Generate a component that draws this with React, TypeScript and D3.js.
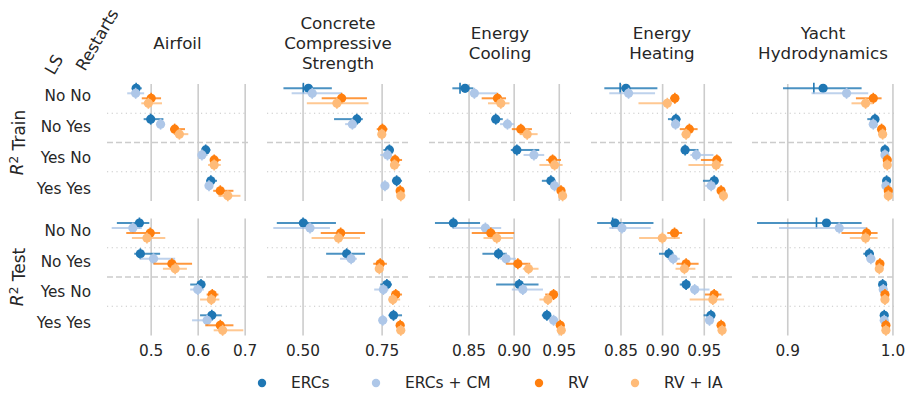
import React from 'react'
import * as d3 from 'd3'

// categories
const configs = ['No No', 'No Yes', 'Yes No', 'Yes Yes']
const seriesNames = ['ERCs', 'ERCs + CM', 'RV', 'RV + IA']
const seriesColors = ['#1f77b4', '#aec7e8', '#ff7f0e', '#ffbb78']
const datasets = ['Airfoil', 'Concrete Compressive Strength', 'Energy Cooling', 'Energy Heating', 'Yacht Hydrodynamics']
const titleLines = [['Airfoil'], ['Concrete', 'Compressive', 'Strength'], ['Energy', 'Cooling'], ['Energy', 'Heating'], ['Yacht', 'Hydrodynamics']]
const metrics = ['Train', 'Test']

// x limits and tick labels per dataset
const xLimits = [[0.406, 0.706], [0.386, 0.835], [0.8056, 0.963], [0.814, 0.9845], [0.866, 1.001]]
const xTicks = [['0.5', '0.6', '0.7'], ['0.50', '0.75'], ['0.85', '0.90', '0.95'], ['0.85', '0.90', '0.95'], ['0.9', '1.0']]

// [mean, low, high], order: config x series
const airfoilTrain = [
  [0.468, 0.461, 0.480], [0.467, 0.449, 0.485], [0.500, 0.480, 0.521], [0.494, 0.479, 0.523],
  [0.499, 0.484, 0.526], [0.520, 0.514, 0.526], [0.550, 0.540, 0.572], [0.560, 0.549, 0.579],
  [0.616, 0.608, 0.626], [0.608, 0.600, 0.620], [0.634, 0.626, 0.648], [0.634, 0.621, 0.648],
  [0.627, 0.617, 0.640], [0.623, 0.617, 0.630], [0.647, 0.632, 0.675], [0.663, 0.643, 0.690],
]
const airfoilTest = [
  [0.475, 0.427, 0.496], [0.461, 0.416, 0.480], [0.498, 0.447, 0.519], [0.491, 0.459, 0.530],
  [0.477, 0.464, 0.519], [0.505, 0.477, 0.551], [0.544, 0.505, 0.587], [0.551, 0.525, 0.576],
  [0.606, 0.583, 0.615], [0.599, 0.583, 0.612], [0.630, 0.618, 0.643], [0.628, 0.604, 0.645],
  [0.629, 0.604, 0.650], [0.619, 0.587, 0.629], [0.647, 0.615, 0.675], [0.652, 0.633, 0.696],
]
const concreteTrain = [
  [0.517, 0.438, 0.591], [0.529, 0.464, 0.622], [0.622, 0.559, 0.702], [0.607, 0.512, 0.707],
  [0.670, 0.598, 0.689], [0.656, 0.633, 0.670], [0.751, 0.733, 0.767], [0.749, 0.740, 0.758],
  [0.773, 0.754, 0.786], [0.767, 0.744, 0.781], [0.791, 0.776, 0.813], [0.789, 0.776, 0.807],
  [0.796, 0.781, 0.813], [0.759, 0.754, 0.764], [0.807, 0.797, 0.820], [0.809, 0.803, 0.815],
]
const concreteTest = [
  [0.501, 0.417, 0.604], [0.522, 0.406, 0.585], [0.619, 0.556, 0.696], [0.612, 0.527, 0.680],
  [0.638, 0.573, 0.696], [0.652, 0.617, 0.670], [0.744, 0.722, 0.765], [0.741, 0.733, 0.750],
  [0.765, 0.744, 0.781], [0.754, 0.725, 0.770], [0.793, 0.780, 0.813], [0.784, 0.770, 0.807],
  [0.786, 0.770, 0.813], [0.752, 0.747, 0.757], [0.807, 0.797, 0.820], [0.809, 0.803, 0.815],
]
const coolingTrain = [
  [0.8456, 0.8315, 0.8548], [0.8559, 0.851, 0.881], [0.8815, 0.864, 0.891], [0.8852, 0.871, 0.8948],
  [0.8796, 0.875, 0.8874], [0.8926, 0.8844, 0.900], [0.9074, 0.8974, 0.9197], [0.9144, 0.906, 0.926],
  [0.903, 0.8963, 0.9278], [0.9219, 0.9104, 0.9333], [0.9426, 0.9356, 0.9519], [0.9448, 0.928, 0.9537],
  [0.9407, 0.9307, 0.9456], [0.9448, 0.941, 0.948], [0.9519, 0.9475, 0.9565], [0.9537, 0.951, 0.9565],
]
const coolingTest = [
  [0.8326, 0.8122, 0.8622], [0.8681, 0.8326, 0.8856], [0.8741, 0.853, 0.900], [0.8807, 0.866, 0.899],
  [0.8826, 0.8648, 0.8919], [0.8911, 0.8844, 0.9019], [0.9041, 0.8911, 0.9178], [0.9159, 0.9096, 0.927],
  [0.9056, 0.880, 0.927], [0.9096, 0.8974, 0.9319], [0.9437, 0.9344, 0.9474], [0.9374, 0.928, 0.9419],
  [0.9363, 0.9307, 0.9407], [0.9437, 0.940, 0.947], [0.9511, 0.947, 0.955], [0.9522, 0.949, 0.955],
]
const heatingTrain = [
  [0.856, 0.830, 0.8937], [0.8591, 0.836, 0.8909], [0.9147, 0.909, 0.9194], [0.9056, 0.871, 0.9095],
  [0.9159, 0.9064, 0.9214], [0.9155, 0.912, 0.918], [0.9321, 0.9206, 0.942], [0.9282, 0.923, 0.933],
  [0.927, 0.922, 0.943], [0.9405, 0.9333, 0.961], [0.9651, 0.946, 0.971], [0.9643, 0.931, 0.973],
  [0.9619, 0.9484, 0.967], [0.9583, 0.951, 0.963], [0.9702, 0.966, 0.974], [0.973, 0.970, 0.976],
]
const heatingTest = [
  [0.8429, 0.8214, 0.889], [0.8512, 0.836, 0.8857], [0.9143, 0.9056, 0.9234], [0.8996, 0.8718, 0.9206],
  [0.9075, 0.8956, 0.9135], [0.9127, 0.906, 0.9206], [0.9282, 0.9167, 0.9432], [0.9262, 0.9155, 0.9393],
  [0.9282, 0.9206, 0.9325], [0.9385, 0.9333, 0.9563], [0.9619, 0.9508, 0.9706], [0.9603, 0.9325, 0.9738],
  [0.958, 0.9492, 0.963], [0.9563, 0.953, 0.960], [0.9702, 0.967, 0.973], [0.9714, 0.969, 0.974],
]
const yachtTrain = [
  [0.9336, 0.8955, 0.9702], [0.9559, 0.9226, 0.9765], [0.9813, 0.9648, 0.9892], [0.974, 0.9606, 0.9813],
  [0.9829, 0.9756, 0.9861], [0.9813, 0.979, 0.984], [0.9892, 0.987, 0.991], [0.9902, 0.988, 0.992],
  [0.9924, 0.991, 0.9935], [0.9924, 0.991, 0.9935], [0.9946, 0.9935, 0.9957], [0.9946, 0.9935, 0.9957],
  [0.994, 0.993, 0.995], [0.9933, 0.992, 0.9945], [0.9956, 0.9946, 0.9965], [0.9956, 0.9946, 0.9965],
]
const yachtTest = [
  [0.9368, 0.8708, 0.9702], [0.9489, 0.8917, 0.975], [0.975, 0.9511, 0.9854], [0.974, 0.959, 0.9854],
  [0.9775, 0.9718, 0.982], [0.979, 0.975, 0.983], [0.9876, 0.985, 0.990], [0.987, 0.985, 0.989],
  [0.9902, 0.989, 0.9915], [0.9908, 0.9895, 0.992], [0.9924, 0.991, 0.9937], [0.9924, 0.991, 0.9937],
  [0.9917, 0.9905, 0.993], [0.9917, 0.9905, 0.993], [0.9933, 0.992, 0.9945], [0.9933, 0.992, 0.9945],
]
const panelData = [
  [airfoilTrain, concreteTrain, coolingTrain, heatingTrain, yachtTrain],
  [airfoilTest, concreteTest, coolingTest, heatingTest, yachtTest],
]
// medians that differ visibly from the mean: [metric, dataset, index, value]
const medianOverrides: [number, number, number, number][] = [
  [0, 1, 0, 0.501], [0, 2, 0, 0.840], [0, 3, 0, 0.849], [0, 4, 0, 0.9248],
  [1, 1, 0, 0.500], [1, 3, 0, 0.840], [1, 4, 0, 0.9273],
]

const W = 907
const H = 396
const colX = [[107, 248], [267, 409], [429, 571], [591, 733], [752, 894]]
const rowBand = [[84, 201], [218.5, 335.5]]
const rowPoints = [[95.8, 188.3], [230.5, 322.8]]
const font = 'DejaVu Sans, sans-serif'
const ink = '#262626'

export default function App() {
  const dodge = d3.scalePoint<string>().domain(seriesNames).range([-7.5, 7.5])
  const legendX = d3.scaleOrdinal<string, number>().domain(seriesNames).range([262, 376, 539, 635])

  return (
    <svg width={W} height={H} style={{ position: 'absolute', left: 0, top: 0 }} fontFamily={font}>
      <rect width={W} height={H} fill="white" />
      {/* corner labels */}
      <text transform="translate(54,76) rotate(-60)" fontSize={16.5} fill={ink}>LS</text>
      <text transform="translate(85,72) rotate(-60)" fontSize={16.5} fill={ink}>Restarts</text>

      {titleLines.map((lines, c) => {
        const cx = (colX[c][0] + colX[c][1]) / 2
        const y0 = 43 - ((lines.length - 1) * 20) / 2
        return lines.map((ln, i) => (
          <text key={`t${c}${i}`} x={cx} y={y0 + i * 20} dy="0.35em" textAnchor="middle" fontSize={16.7} fill={ink}>{ln}</text>
        ))
      })}

      {metrics.map((m, r) => {
        const band = d3.scaleBand<string>().domain(configs).range(rowBand[r] as [number, number])
        const yp = d3.scalePoint<string>().domain(configs).range(rowPoints[r] as [number, number])
        const midY = (rowBand[r][0] + rowBand[r][1]) / 2
        return (
          <g key={m}>
            <text transform={`translate(17,${midY}) rotate(-90)`} textAnchor="middle" dy="0.35em" fontSize={17} fill={ink}>
              <tspan fontStyle="italic">R</tspan>
              <tspan dy="-0.45em" fontSize={12}>2</tspan>
              <tspan dy="0.45em">{` ${m}`}</tspan>
            </text>
            {configs.map(cf => (
              <text key={cf} x={91} y={yp(cf)} dy="0.35em" textAnchor="end" fontSize={15.3} fill={ink}>{cf}</text>
            ))}
            {datasets.map((ds, c) => {
              const x = d3.scaleLinear().domain(xLimits[c]).range(colX[c])
              const rows = panelData[r][c]
              return (
                <g key={ds}>
                  {xTicks[c].map(t => (
                    <line key={t} x1={x(+t)} x2={x(+t)} y1={rowBand[r][0]} y2={rowBand[r][1]} stroke="#cccccc" strokeWidth={1.6} />
                  ))}
                  {configs.slice(1).map((cf, i) => (
                    <line key={cf} x1={colX[c][0]} x2={colX[c][1]} y1={band(cf)} y2={band(cf)}
                      stroke={i === 1 ? '#cccccc' : '#c8c8c8'} strokeWidth={i === 1 ? 1.6 : 1.2}
                      strokeDasharray={i === 1 ? '6,3' : '1.2,3.5'} />
                  ))}
                  {seriesNames.map((sn, s) => (
                    <g key={sn}>
                      {configs.map((cf, k) => {
                        const [mean, lo, hi] = rows[k * 4 + s]
                        const ov = medianOverrides.find(o => o[0] === r && o[1] === c && o[2] === k * 4 + s)
                        const med = ov ? ov[3] : mean
                        const y = (yp(cf) as number) + (dodge(sn) as number)
                        return (
                          <g key={cf}>
                            <line x1={x(lo)} x2={x(hi)} y1={y} y2={y} stroke={seriesColors[s]} strokeWidth={2} opacity={0.8} />
                            <line x1={x(med)} x2={x(med)} y1={y - 5.5} y2={y + 5.5} stroke={seriesColors[s]} strokeWidth={1.6} />
                            <circle cx={x(mean)} cy={y} r={4.6} fill={seriesColors[s]} />
                          </g>
                        )
                      })}
                    </g>
                  ))}
                  {r === 1 && xTicks[c].map(t => (
                    <text key={t} x={x(+t)} y={351} dy="0.35em" textAnchor="middle" fontSize={15.3} fill={ink}>{t}</text>
                  ))}
                </g>
              )
            })}
          </g>
        )
      })}

      {/* legend */}
      {seriesNames.map((sn, s) => (
        <g key={sn}>
          <circle cx={legendX(sn)} cy={383} r={4.2} fill={seriesColors[s]} />
          <text x={legendX(sn) + 29} y={383} dy="0.35em" fontSize={15.5} fill={ink}>{sn}</text>
        </g>
      ))}
    </svg>
  )
}
